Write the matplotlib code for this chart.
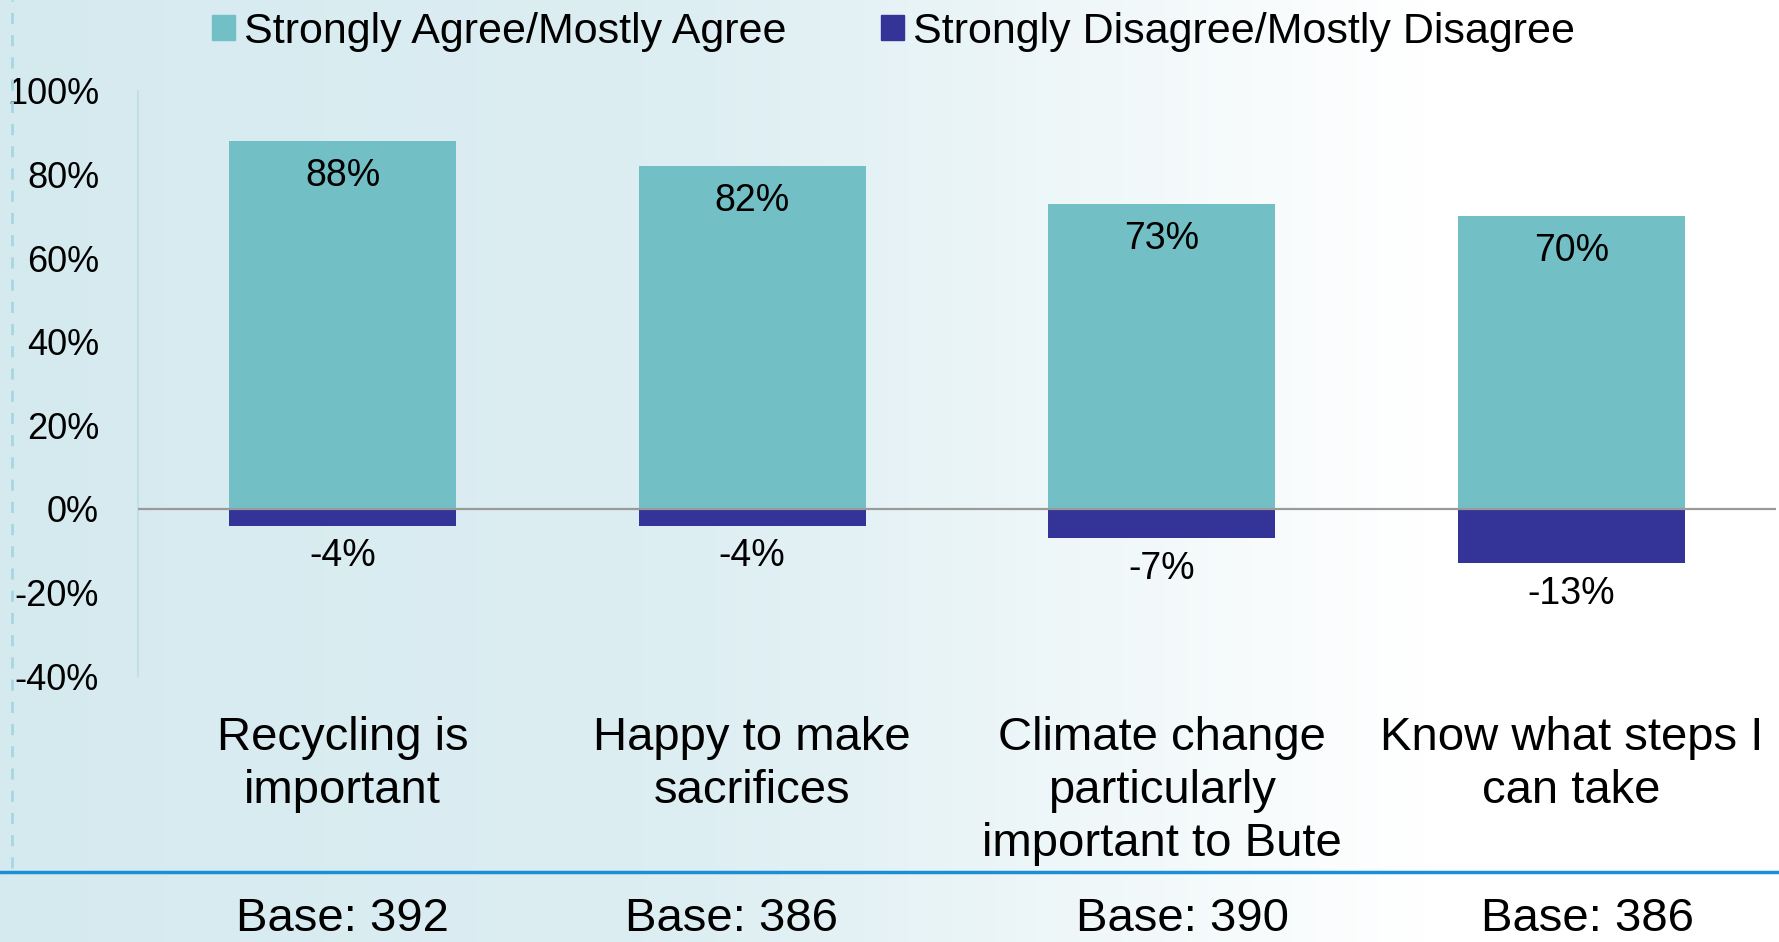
import numpy as np
import matplotlib.pyplot as plt
from matplotlib.lines import Line2D
from matplotlib.patches import Patch
from matplotlib.transforms import blended_transform_factory

# survey results, % of respondents
categories = ["Recycling is\nimportant", "Happy to make\nsacrifices",
              "Climate change\nparticularly\nimportant to Bute", "Know what steps I\ncan take"]
agree = [88, 82, 73, 70]
disagree = [-4, -4, -7, -13]
bases = [392, 386, 390, 386]
series_names = ["Strongly Agree/Mostly Agree", "Strongly Disagree/Mostly Disagree"]
yticks = [-40, -20, 0, 20, 40, 60, 80, 100]

agree_color = "#73bfc6"
disagree_color = "#343397"
arial = ["Liberation Sans", "DejaVu Sans"]

W, H = 1779, 942
fig = plt.figure(figsize=(W / 100, H / 100), dpi=100)

# soft blue-to-white background wash
bg = fig.add_axes([0, 0, 1, 1], zorder=-10)
xs = np.linspace(0, 1, 600)
r = np.interp(xs, [0, 0.4, 0.8, 1], [0.835, 0.87, 1.0, 1.0])
g = np.interp(xs, [0, 0.4, 0.8, 1], [0.918, 0.935, 1.0, 1.0])
b = np.interp(xs, [0, 0.4, 0.8, 1], [0.940, 0.950, 1.0, 1.0])
grad = np.stack([r, g, b], axis=-1)[None, :, :]
bg.imshow(grad, aspect="auto", extent=[0, 1, 0, 1])
bg.set_axis_off()

ax = fig.add_axes([138 / W, 1 - 676 / H, (1776 - 138) / W, (676 - 91) / H])
ax.patch.set_alpha(0)

x = np.arange(len(categories))
bw = 0.555
ax.bar(x, agree, width=bw, color=agree_color, zorder=2, label=series_names[0])
ax.bar(x, disagree, width=bw, color=disagree_color, zorder=2, label=series_names[1])
ax.axhline(0, color="#9a9a9a", lw=1.6, zorder=3)

for xi, v in zip(x, agree):
    ax.annotate(f"{v}%", (xi, v), xytext=(0, -25), textcoords="offset points",
                ha="center", va="center", fontsize=27, family=arial)
for xi, v in zip(x, disagree):
    ax.annotate(f"{v}%", (xi, v), xytext=(0, -22), textcoords="offset points",
                ha="center", va="center", fontsize=27, family=arial)

ax.set_xlim(-0.5, len(categories) - 0.5)
ax.set_ylim(-40, 100)
ax.set_yticks(yticks)
ax.set_yticklabels([f"{t}%" for t in yticks], fontsize=26, family=arial)
ax.tick_params(axis="y", length=0, pad=28)
ax.set_xticks(x)
ax.set_xticklabels(categories, fontsize=34, family=arial, linespacing=1.26)
ax.tick_params(axis="x", length=0, pad=29)
for spine in ["top", "right", "bottom"]:
    ax.spines[spine].set_visible(False)
ax.spines["left"].set_color("#bfe0e6")
ax.spines["left"].set_linewidth(1.5)

# sample sizes under the divider line
base_trans = blended_transform_factory(ax.transData, fig.transFigure)
base_shift = [0.0, -0.05, 0.05, 0.04]
for xi, n, dx in zip(x, bases, base_shift):
    ax.text(xi + dx, 1 - 919 / H, f"Base: {n}", transform=base_trans,
            ha="center", va="center", fontsize=34, family=arial)

fig.add_artist(Line2D([0, 1], [1 - 872 / H, 1 - 872 / H], transform=fig.transFigure,
                      color="#1a8fd6", lw=2.5))
fig.add_artist(Line2D([12 / W, 12 / W], [1 - 868 / H, 1.0], transform=fig.transFigure,
                      color="#a6d6e2", lw=2, ls=(0, (4, 4))))

handles = [Patch(color=agree_color), Patch(color=disagree_color)]
fig.legend(handles, series_names, ncol=2, loc="center left",
           bbox_to_anchor=(212 / W, 1 - 32 / H), frameon=False,
           prop={"family": arial, "size": 31},
           handlelength=0.53, handleheight=0.53, handletextpad=0.21,
           columnspacing=2.2, borderpad=0, borderaxespad=0)

fig.savefig("out.png", dpi=100)
